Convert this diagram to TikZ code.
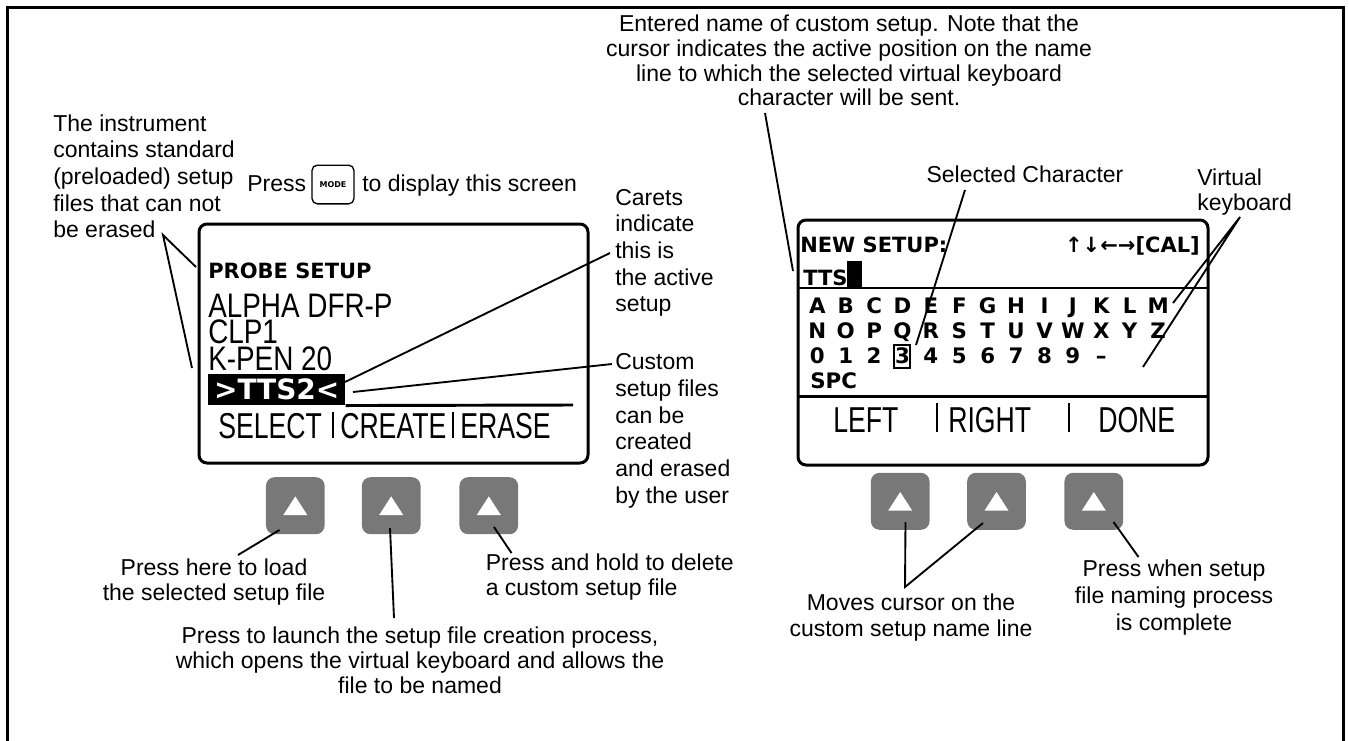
\documentclass[tikz,border=0pt]{standalone}
\usepackage{fontspec}
\setmainfont{Liberation Sans}
\newfontfamily\lcdfont[FakeStretch=0.82]{Liberation Sans}
\newfontfamily\lcdbfont[FakeStretch=0.74]{Liberation Sans}
\newfontfamily\pixfont{DejaVu Sans}
\definecolor{btngray}{RGB}{120,120,120}
\tikzset{
  annot/.style={inner sep=0pt, font=\fontsize{17.25pt}{20pt}\selectfont},
  annotb/.style={inner sep=0pt, font=\fontsize{17.25pt}{18.75pt}\selectfont},
  annott/.style={inner sep=0pt, font=\fontsize{17.25pt}{18.5pt}\selectfont},
  lcd/.style={inner sep=0pt, font=\lcdfont\fontsize{25.5pt}{27pt}\selectfont},
  lcdb/.style={inner sep=0pt, font=\lcdbfont\fontsize{27pt}{28pt}\selectfont},
  pix/.style={inner sep=0pt, font=\pixfont\bfseries\fontsize{15.75pt}{18pt}\selectfont},
  kb/.style={inner sep=0pt, font=\pixfont\bfseries\fontsize{16pt}{18pt}\selectfont},
  screen/.style={draw, line width=2.25pt, rounded corners=6pt},
  lead/.style={line width=1.4pt},
  rule/.style={line width=2.2pt},
  btn/.style={fill=btngray, rounded corners=6.5pt, minimum width=44pt, minimum height=42.75pt, inner sep=0pt,
     path picture={\fill[white, sharp corners] ([xshift=-9pt,yshift=-7pt]path picture bounding box.center) -- ++(18pt,0pt) -- ++(-9pt,14pt) -- cycle;}},
}
\begin{document}
\begin{tikzpicture}[x=0.75pt,y=-0.75pt]
\useasboundingbox (0,0) rectangle (1349,740);
\draw[line width=2.25pt] (7,745) -- (7,7) -- (1343,7) -- (1343,745);

% ---------- left annotations (base anchor = last line)
\node[annot, anchor=base west, align=left] (tInstr) at (53,237.7) {The instrument\\contains standard\\(preloaded) setup\\files that can not\\be erased};
\node[annot, anchor=base west] (tPress) at (247,191.7) {Press};
\node[draw, line width=1pt, rounded corners=4pt, minimum width=31.5pt, minimum height=29pt, inner sep=0pt,
      font=\pixfont\bfseries\fontsize{6pt}{7pt}\selectfont] (kMode) at (333,184.5) {MODE};
\node[annot, anchor=base west] (tDisp) at (362,191.7) {to display this screen};

\node[annot, anchor=base west, align=left] (tCaret) at (615,311.7) {Carets\\indicate\\this is\\the active\\setup};
\node[annot, anchor=base west, align=left] (tCust) at (615,503.3) {Custom\\setup files\\can be\\created\\and erased\\by the user};

% ---------- left screen
\draw[screen] (199,224) rectangle (588,463);
\node[pix, anchor=base west] (lProbe) at (208,278.3) {PROBE SETUP};
\node[lcd, anchor=base west] (lAlpha) at (208,317.3) {ALPHA DFR-P};
\node[lcd, anchor=base west] (lClp) at (208,343.5) {CLP1};
\node[lcd, anchor=base west] (lKpen) at (208,370) {K-PEN 20};
\node[fill=black, minimum width=102.75pt, minimum height=23.25pt, inner sep=0pt, anchor=north west] (lTts) at (208,374) {};
\node[inner sep=0pt, text=white, font=\pixfont\bfseries\fontsize{21pt}{22pt}\selectfont] (lTtsT) at (lTts.center) {>TTS2<};
\draw[rule] (lTts.south east) -- (573,405);
\node[lcdb, anchor=base west] (lSel) at (218,438) {SELECT};
\node[lcdb, anchor=base west] (lCre) at (340,438) {CREATE};
\node[lcdb, anchor=base west] (lEra) at (460,438) {ERASE};
\draw[rule] (333,412) -- (333,438) (453,412) -- (453,438);

% left leaders
\coordinate (aL) at (163,235);
\coordinate (aL1) at (196,267);
\coordinate (aL2) at (192,368);
\draw[lead] (aL1) -- (aL) -- (aL2);
\coordinate (cS) at (345,382);
\coordinate (cE) at (610,253);
\draw[lead] (cS) -- (cE);
\coordinate (uS) at (353,392);
\coordinate (uE) at (612,364);
\draw[lead] (uS) -- (uE);

% ---------- left buttons
\node[btn] (bL1) at (295.3,505.7) {};
\node[btn] (bL2) at (391.2,505.7) {};
\node[btn] (bL3) at (488.8,505.7) {};

\node[annotb, anchor=base, align=center] (tLoad) at (214,600) {Press here to load\\the selected setup file};
\node[annotb, anchor=base west, align=left] (tHold) at (485.5,595) {Press and hold to delete\\a custom setup file};
\node[annotb, anchor=base, align=center] (tLaunch) at (420,693.3) {Press to launch the setup file creation process,\\which opens the virtual keyboard and allows the\\file to be named};

\coordinate (p1a) at (279.5,530);
\coordinate (p1b) at (238,555);
\draw[lead] (p1a) -- (p1b);
\coordinate (p2a) at (390,528);
\coordinate (p2b) at (394,618);
\draw[lead] (p2a) -- (p2b);
\coordinate (p3a) at (494,527);
\coordinate (p3b) at (511.5,553);
\draw[lead] (p3a) -- (p3b);

% ---------- top annotations
\node[annott, anchor=base, align=center] (tEnter) at (849,105.7) {Entered name of custom setup. Note that the\\cursor indicates the active position on the name\\line to which the selected virtual keyboard\\character will be sent.};
\node[annot, anchor=base] (tSel) at (1025,182) {Selected Character};
\node[annotb, anchor=base west, align=left] (tVirt) at (1197,210) {Virtual\\keyboard};

% ---------- right screen
\draw[screen] (798,220) rectangle (1208,465);
\node[pix, anchor=base west] (rNew) at (800,252) {NEW SETUP:};
\node[pix, anchor=base east] (rCal) at (1200,252) {↑↓←→[CAL]};
\node[pix, anchor=base west] (rTts) at (803,285) {TTS};
\fill (847,261) rectangle (862,288);
\draw[rule] (798,288) -- (1207,288);
\foreach \c [count=\i from 0] in {A,B,C,D,E,F,G,H,I,J,K,L,M}
  \node[kb, anchor=base] (kA\i) at ({817.3+28.4*\i},313) {\c};
\foreach \c [count=\i from 0] in {N,O,P,Q,R,S,T,U,V,W,X,Y,Z}
  \node[kb, anchor=base] (kB\i) at ({817.3+28.4*\i},338) {\c};
\foreach \c [count=\i from 0] in {0,1,2,3,4,5,6,7,8,9,–}
  \node[kb, anchor=base] (kC\i) at ({817.3+28.4*\i},363) {\c};
\node[kb, anchor=base west] (kSpc) at (810,388) {SPC};
\draw[line width=1.5pt] (893.5,344.5) rectangle (910,367.5);
\draw[rule] (798,396.5) -- (1207,396.5);
\node[lcdb, anchor=base west] (rLeft) at (833,432) {LEFT};
\node[lcdb, anchor=base west] (rRight) at (948,432) {RIGHT};
\node[lcdb, anchor=base west] (rDone) at (1098,432) {DONE};
\draw[rule] (937,403) -- (937,432) (1069,403) -- (1069,432);

% top leaders
\coordinate (eS) at (765,113);
\coordinate (eE) at (793,271);
\draw[lead] (eS) -- (eE);
\coordinate (sS) at (965,190);
\coordinate (sE) at (916,345);
\draw[lead] (sS) -- (sE);
\coordinate (vA) at (1240,217);
\coordinate (vM) at (1173,303);
\coordinate (vK) at (1143,367);
\draw[lead] (vM) -- (vA) -- (vK);

% ---------- right buttons
\node[btn] (bR1) at (900.2,501.3) {};
\node[btn] (bR2) at (996.5,501.3) {};
\node[btn] (bR3) at (1093.8,501.3) {};

\node[annot, anchor=base, align=center] (tMove) at (911,636.7) {Moves cursor on the\\custom setup name line};
\node[annot, anchor=base, align=center] (tDone) at (1174,630) {Press when setup\\file naming process\\is complete};

\coordinate (mA) at (905,587);
\coordinate (m1) at (905.5,522);
\coordinate (m2) at (983,523);
\draw[lead] (m1) -- (mA) -- (m2);
\coordinate (d3a) at (1113.5,522);
\coordinate (d3b) at (1138.5,557);
\draw[lead] (d3a) -- (d3b);
\end{tikzpicture}
\end{document}
